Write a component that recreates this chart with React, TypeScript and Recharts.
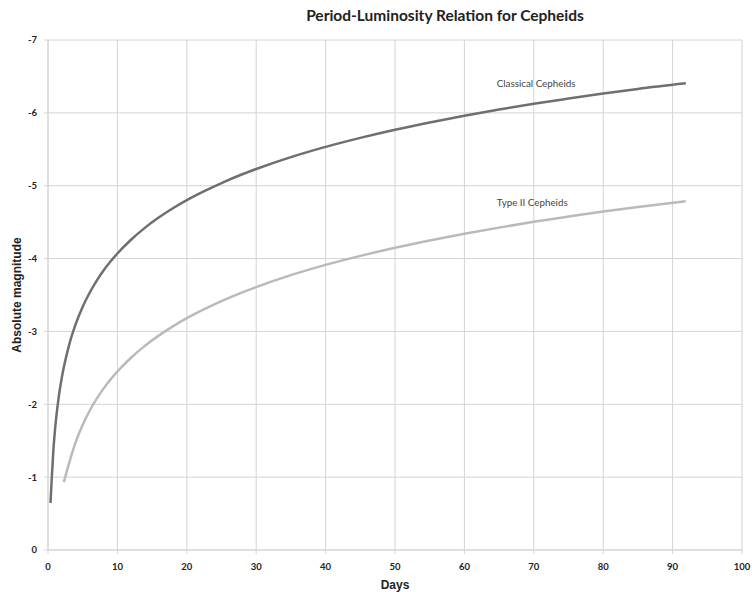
import React from "react";
import {
  LineChart,
  Line,
  XAxis,
  YAxis,
  CartesianGrid,
  ReferenceDot,
  Label,
} from "recharts";

// Period in days and absolute magnitude
const classicalDays = [0.36, 0.5, 0.75, 1, 1.5, 2, 3, 4, 5, 6, 7, 8, 9, 10, 12, 14, 16, 18, 20, 22, 25, 28, 30, 35, 40, 45, 50, 55, 60, 65, 70, 75, 80, 85, 91.9];
const classicalMag = [
  -0.645, -0.909, -1.337, -1.64, -2.068, -2.372, -2.799, -3.103, -3.339, -3.531, -3.694, -3.835,
  -3.959, -4.07, -4.262, -4.425, -4.566, -4.69, -4.802, -4.902, -5.037, -5.157, -5.229, -5.392,
  -5.533, -5.657, -5.769, -5.869, -5.961, -6.045, -6.124, -6.196, -6.265, -6.329, -6.405,
];

const typeIIDays = [2.28, 3, 4, 5, 6, 7, 8, 9, 10, 12, 14, 16, 18, 20, 22, 25, 28, 30, 35, 40, 45, 50, 55, 60, 65, 70, 75, 80, 85, 91.9];
const typeIIMag = [
  -0.93, -1.179, -1.483, -1.719, -1.911, -2.074, -2.215, -2.339, -2.45, -2.642, -2.805, -2.946,
  -3.07, -3.182, -3.282, -3.417, -3.537, -3.609, -3.772, -3.913, -4.037, -4.149, -4.249, -4.341,
  -4.425, -4.504, -4.576, -4.645, -4.709, -4.788,
];

const xTicks = [0, 10, 20, 30, 40, 50, 60, 70, 80, 90, 100];
const yTicks = [-7, -6, -5, -4, -3, -2, -1, 0];

// Where the series names sit (days, magnitude)
const seriesNotes = [
  { name: "Classical Cepheids", days: 64.8, mag: -6.39 },
  { name: "Type II Cepheids", days: 64.8, mag: -4.75 },
];

const classical = classicalDays.map((d, i) => ({ days: d, mag: classicalMag[i] }));
const typeII = typeIIDays.map((d, i) => ({ days: d, mag: typeIIMag[i] }));

const gridColor = "#d4d4d4";
const tickStyle = { fontSize: 9.5, fontWeight: 700, fill: "#222", fontFamily: "Lato, sans-serif" };

const NoteLabel = (props: any) => {
  const { viewBox, value } = props;
  return (
    <text
      x={viewBox.x}
      y={viewBox.y}
      dy='0.35em'
      fontSize={9.8}
      fill='#444'
      fontFamily='Lato, sans-serif'
      textAnchor='start'
    >
      {value}
    </text>
  );
};

const App: React.FC = () => {
  return (
    <div style={{ position: "absolute", left: 0, top: 0, width: 752, height: 592, background: "#fff" }}>
      {/* Chart title */}
      <div
        style={{
          position: "absolute",
          left: 0,
          top: 6,
          width: 890,
          textAlign: "center",
          fontFamily: "Lato, sans-serif",
          fontWeight: 700,
          fontSize: 15.5,
          color: "#222",
        }}
      >
        Period-Luminosity Relation for Cepheids
      </div>
      <LineChart
        width={752}
        height={592}
        margin={{ top: 40, right: 10, left: 0, bottom: 0 }}
      >
        <CartesianGrid stroke={gridColor} strokeWidth={1} />
        <XAxis
          type='number'
          dataKey='days'
          domain={[0, 100]}
          ticks={xTicks}
          interval={0}
          height={42}
          tickSize={4}
          tickMargin={9}
          stroke={gridColor}
          tick={tickStyle}
          allowDataOverflow
        >
          <Label
            value='Days'
            position='insideBottom'
            offset={3}
            style={{ fontSize: 12, fontWeight: 700, fill: "#222", fontFamily: "'Liberation Sans', Arial, sans-serif" }}
          />
        </XAxis>
        <YAxis
          type='number'
          dataKey='mag'
          domain={[-7, 0]}
          reversed
          ticks={yTicks}
          interval={0}
          width={48}
          tickSize={4}
          tickMargin={7}
          stroke={gridColor}
          tick={tickStyle}
        >
          <Label
            value='Absolute magnitude'
            angle={-90}
            position='insideLeft'
            offset={17}
            style={{ textAnchor: "middle", fontSize: 12, fontWeight: 700, fill: "#222", fontFamily: "'Liberation Sans', Arial, sans-serif" }}
          />
        </YAxis>
        <Line
          data={classical}
          dataKey='mag'
          type='monotone'
          stroke='#6f6f6f'
          strokeWidth={2.5}
          dot={false}
          isAnimationActive={false}
        />
        <Line
          data={typeII}
          dataKey='mag'
          type='monotone'
          stroke='#bababa'
          strokeWidth={2.5}
          dot={false}
          isAnimationActive={false}
        />
        {seriesNotes.map((n) => (
          <ReferenceDot
            key={n.name}
            x={n.days}
            y={n.mag}
            r={1}
            fill='none'
            stroke='none'
            label={<NoteLabel value={n.name} />}
          />
        ))}
      </LineChart>
    </div>
  );
};

export default App;
